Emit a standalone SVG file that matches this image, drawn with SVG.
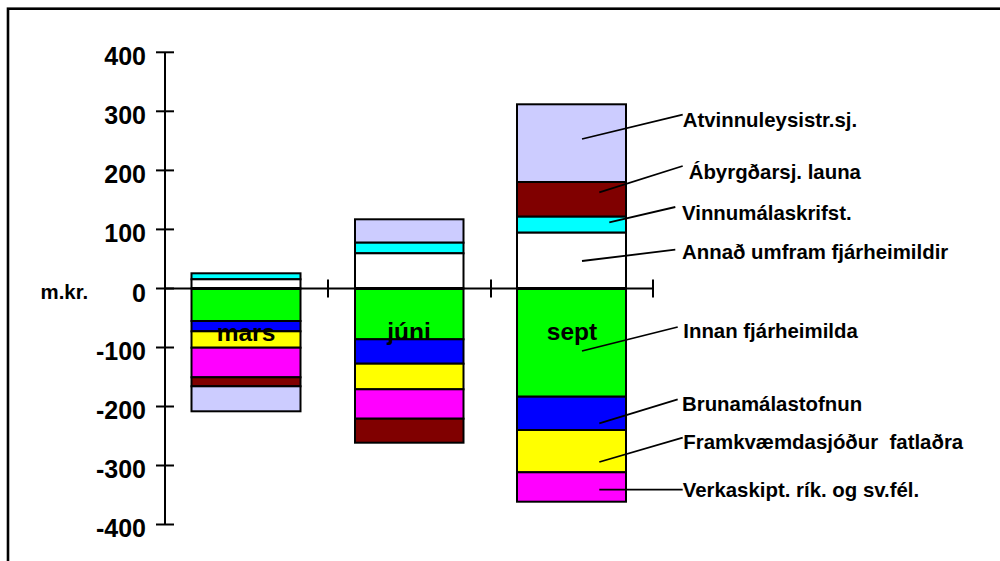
<svg xmlns="http://www.w3.org/2000/svg" width="1000" height="561" viewBox="0 0 1000 561">
<style>
text{font-family:"Liberation Sans",Arial,sans-serif;font-weight:bold;fill:#000}
.tick{font-size:25px;text-anchor:end}
.cat{font-size:24.5px;text-anchor:middle}
.lab{font-size:20.4px}
.ax{stroke:#000;stroke-width:2;fill:none}
.seg{stroke:#000;stroke-width:2}
.zero{stroke:#000;stroke-width:3}
.lead{stroke:#000;stroke-width:1.8;fill:none}
.lav{fill:#CCCCFF}.mar{fill:#800000}.cy{fill:#00FFFF}.wh{fill:#FFFFFF}
.gr{fill:#00FF00}.bl{fill:#0000FF}.ye{fill:#FFFF00}.mg{fill:#FF00FF}
</style>
<rect width="1000" height="561" fill="#fff"/>
<rect x="8" y="8.7" width="1010" height="600" fill="none" stroke="#000" stroke-width="2.6"/>
<g id="axes">
<line class="ax" x1="165" y1="52" x2="165" y2="524.5"/>
<line class="ax" x1="156" y1="52.3" x2="174" y2="52.3"/>
<line class="ax" x1="156" y1="111.3" x2="174" y2="111.3"/>
<line class="ax" x1="156" y1="170.4" x2="174" y2="170.4"/>
<line class="ax" x1="156" y1="229.4" x2="174" y2="229.4"/>
<line class="ax" x1="156" y1="288.5" x2="174" y2="288.5"/>
<line class="ax" x1="156" y1="347.5" x2="174" y2="347.5"/>
<line class="ax" x1="156" y1="406.5" x2="174" y2="406.5"/>
<line class="ax" x1="156" y1="465.5" x2="174" y2="465.5"/>
<line class="ax" x1="156" y1="524.5" x2="174" y2="524.5"/>
<line class="ax" x1="165" y1="288.5" x2="653" y2="288.5"/>
<line class="ax" x1="328" y1="279.5" x2="328" y2="297.5"/>
<line class="ax" x1="491" y1="279.5" x2="491" y2="297.5"/>
<line class="ax" x1="653" y1="279.5" x2="653" y2="297.5"/>
<text class="tick" x="146" y="64.5">400</text>
<text class="tick" x="146" y="123.5">300</text>
<text class="tick" x="146" y="182.5">200</text>
<text class="tick" x="146" y="241.5">100</text>
<text class="tick" x="146" y="301.5">0</text>
<text class="tick" x="146" y="360">-100</text>
<text class="tick" x="146" y="419">-200</text>
<text class="tick" x="146" y="478">-300</text>
<text class="tick" x="146" y="537">-400</text>
<text class="lab" x="40.5" y="298.5">m.kr.</text>
</g>
<g id="bar-mars">
<rect class="seg cy" x="191.5" y="273.3" width="109" height="6"/>
<rect class="seg wh" x="191.5" y="279.3" width="109" height="9.2"/>
<rect class="seg gr" x="191.5" y="288.5" width="109" height="32.5"/>
<rect class="seg bl" x="191.5" y="321" width="109" height="10.3"/>
<rect class="seg ye" x="191.5" y="331.3" width="109" height="16.4"/>
<rect class="seg mg" x="191.5" y="347.7" width="109" height="29.6"/>
<rect class="seg mar" x="191.5" y="377.3" width="109" height="9"/>
<rect class="seg lav" x="191.5" y="386.3" width="109" height="25"/>
<line class="zero" x1="191.5" y1="288.5" x2="300.5" y2="288.5"/>
<text class="cat" x="246" y="341">mars</text>
</g>
<g id="bar-juni">
<rect class="seg lav" x="355" y="219.3" width="108.5" height="23.4"/>
<rect class="seg cy" x="355" y="242.7" width="108.5" height="10.6"/>
<rect class="seg wh" x="355" y="253.3" width="108.5" height="35.2"/>
<rect class="seg gr" x="355" y="288.5" width="108.5" height="50.8"/>
<rect class="seg bl" x="355" y="339.3" width="108.5" height="24.4"/>
<rect class="seg ye" x="355" y="363.7" width="108.5" height="25.6"/>
<rect class="seg mg" x="355" y="389.3" width="108.5" height="29.4"/>
<rect class="seg mar" x="355" y="418.7" width="108.5" height="24"/>
<line class="zero" x1="355" y1="288.5" x2="463.5" y2="288.5"/>
<text class="cat" x="409" y="339.5">júni</text>
</g>
<g id="bar-sept">
<rect class="seg lav" x="517" y="104.3" width="109" height="77.7"/>
<rect class="seg mar" x="517" y="182" width="109" height="34.7"/>
<rect class="seg cy" x="517" y="216.7" width="109" height="16"/>
<rect class="seg wh" x="517" y="232.7" width="109" height="55.8"/>
<rect class="seg gr" x="517" y="288.5" width="109" height="108.2"/>
<rect class="seg bl" x="517" y="396.7" width="109" height="33.3"/>
<rect class="seg ye" x="517" y="430" width="109" height="42.3"/>
<rect class="seg mg" x="517" y="472.3" width="109" height="29.4"/>
<line class="zero" x1="517" y1="288.5" x2="626" y2="288.5"/>
<text class="cat" x="572" y="340">sept</text>
</g>
<g id="connectors">
<line class="lead" x1="582" y1="139" x2="682.7" y2="114.7"/>
<line class="lead" x1="599.3" y1="192.3" x2="682.7" y2="166"/>
<line class="lead" x1="609.3" y1="222.3" x2="675.3" y2="207"/>
<line class="lead" x1="582" y1="261" x2="675.3" y2="249.7"/>
<line class="lead" x1="582" y1="351" x2="677.7" y2="327"/>
<line class="lead" x1="599.3" y1="423.3" x2="677.7" y2="399.3"/>
<line class="lead" x1="599.3" y1="462" x2="682.7" y2="437.7"/>
<line class="lead" x1="599.3" y1="489.7" x2="682.7" y2="489.7"/>
</g>
<g id="label-atvinnuleysistr"><text class="lab" x="682.7" y="126.7">Atvinnuleysistr.sj.</text></g>
<g id="label-abyrgdarsj"><text class="lab" x="688.7" y="179.3">Ábyrgðarsj. launa</text></g>
<g id="label-vinnumalaskrifst"><text class="lab" x="682" y="220">Vinnumálaskrifst.</text></g>
<g id="label-annad"><text class="lab" x="682" y="259">Annað umfram fjárheimildir</text></g>
<g id="label-innan"><text class="lab" x="683.3" y="338.3">Innan fjárheimilda</text></g>
<g id="label-brunamalastofnun"><text class="lab" x="682" y="411">Brunamálastofnun</text></g>
<g id="label-framkvaemdasjodur"><text class="lab" x="683.3" y="449" xml:space="preserve">Framkvæmdasjóður  fatlaðra</text></g>
<g id="label-verkaskipt"><text class="lab" x="682.7" y="497.3">Verkaskipt. rík. og sv.fél.</text></g>
</svg>
